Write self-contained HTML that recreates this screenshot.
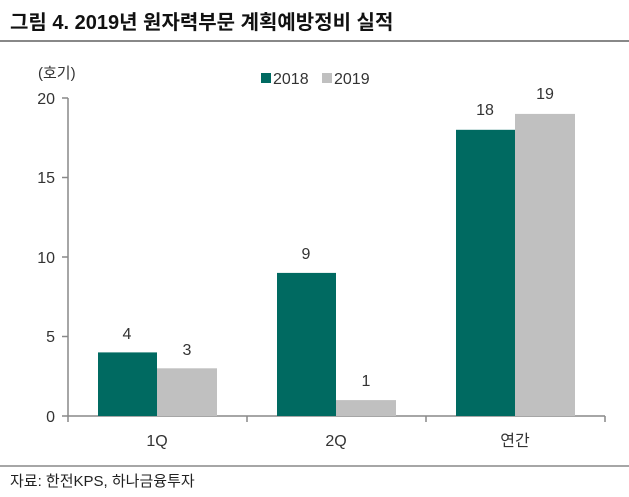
<!DOCTYPE html>
<html><head><meta charset="utf-8"><style>
body{margin:0;background:#fff;}
svg text{font-family:"Liberation Sans","Noto Sans CJK KR",sans-serif;}
</style></head><body>
<svg width="629" height="492" xmlns="http://www.w3.org/2000/svg">
<rect width="629" height="492" fill="#fff"/>
<text x="10" y="29" font-size="20" font-weight="bold" fill="#111">그림 4. 2019년 원자력부문 계획예방정비 실적</text>
<line x1="0" y1="41" x2="629" y2="41" stroke="#888" stroke-width="2"/>
<text x="38" y="78" font-size="15" fill="#333">(호기)</text>
<rect x="261" y="73" width="10" height="10" fill="#006a61"/>
<text x="273" y="84" font-size="16" fill="#333">2018</text>
<rect x="322" y="73" width="10" height="10" fill="#c0c0c0"/>
<text x="334" y="84" font-size="16" fill="#333">2019</text>
<g stroke="#888" stroke-width="1.5">
<line x1="68" y1="98" x2="68" y2="416"/>
<line x1="62" y1="98" x2="68" y2="98"/>
<line x1="62" y1="177.5" x2="68" y2="177.5"/>
<line x1="62" y1="257" x2="68" y2="257"/>
<line x1="62" y1="336.5" x2="68" y2="336.5"/>
<line x1="62" y1="416" x2="605" y2="416"/>
<line x1="247" y1="416" x2="247" y2="422"/>
<line x1="426" y1="416" x2="426" y2="422"/>
<line x1="605" y1="416" x2="605" y2="422"/>
<line x1="68" y1="416" x2="68" y2="422"/>
</g>
<g font-size="16" fill="#333" text-anchor="end">
<text x="55" y="104">20</text><text x="55" y="183">15</text><text x="55" y="263">10</text><text x="55" y="342">5</text><text x="55" y="422">0</text>
</g>
<g fill="#006a61">
<rect x="98" y="352.4" width="59" height="63.6"/>
<rect x="277" y="272.9" width="59" height="143.1"/>
<rect x="456" y="129.8" width="59" height="286.2"/>
</g>
<g fill="#c0c0c0">
<rect x="157" y="368.3" width="60" height="47.7"/>
<rect x="336" y="400.1" width="60" height="15.9"/>
<rect x="515" y="113.9" width="60" height="302.1"/>
</g>
<g font-size="16" fill="#333" text-anchor="middle">
<text x="127" y="339">4</text><text x="187" y="355">3</text>
<text x="306" y="259">9</text><text x="366" y="386">1</text>
<text x="485" y="115">18</text><text x="545" y="99">19</text>
<text x="157" y="446">1Q</text><text x="336" y="446">2Q</text><text x="515" y="446">연간</text>
</g>
<line x1="0" y1="466" x2="629" y2="466" stroke="#888" stroke-width="1.5"/>
<text x="10" y="486" font-size="15" fill="#222">자료: 한전KPS, 하나금융투자</text>
</svg>
</body></html>
